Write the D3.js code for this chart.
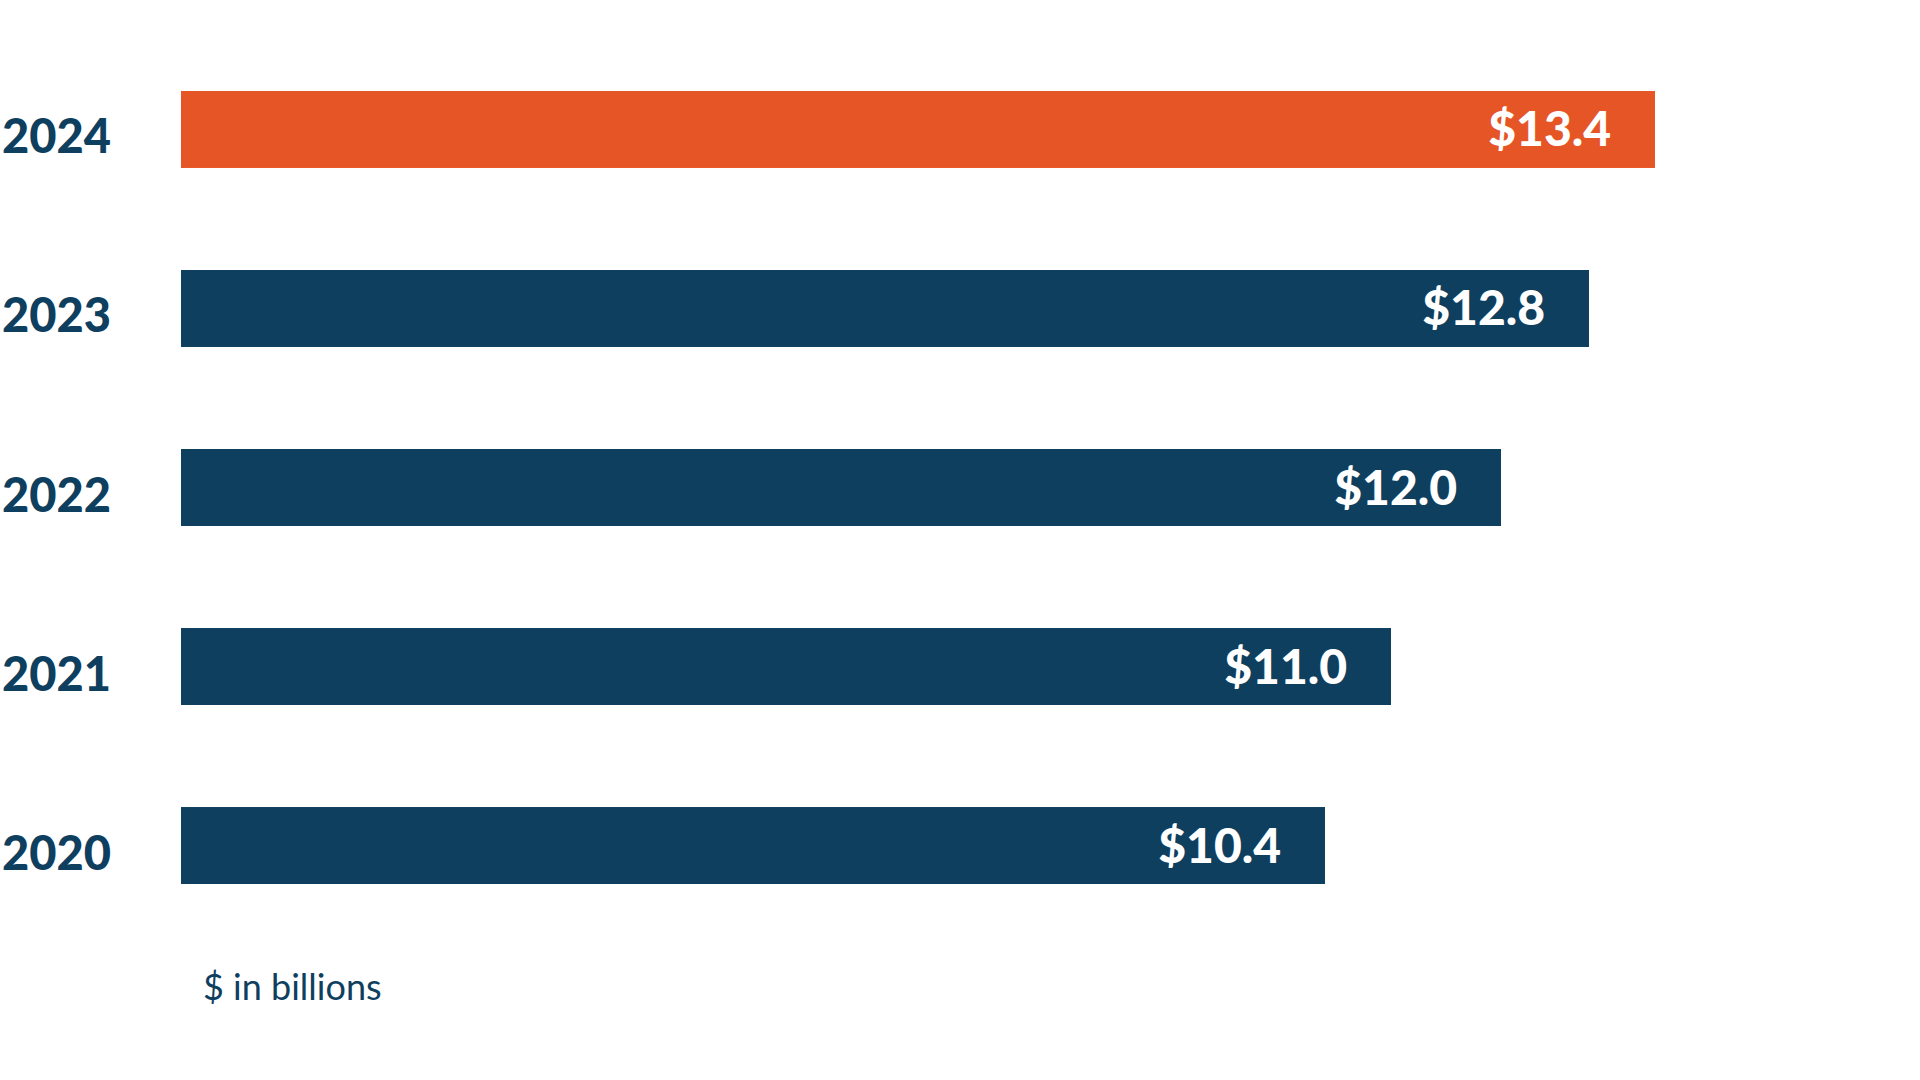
<!DOCTYPE html>
<html>
<head>
<meta charset="utf-8">
<script src="https://cdn.jsdelivr.net/npm/d3@7"></script>
<style>
  body { margin: 0; background: #fff; }
</style>
</head>
<body>
<svg id="chart" width="1920" height="1080"></svg>
<script>
// values in $ billions
const years = ["2024", "2023", "2022", "2021", "2020"]
const values = [13.4, 12.8, 12.0, 11.0, 10.4]
const valueLabels = ["$13.4", "$12.8", "$12.0", "$11.0", "$10.4"]
const unitNote = "$ in billions"

const navy = "#0f3f5f"
const orange = "#e65526"

const svg = d3.select("#chart")

const x = d3.scaleLinear()
    .domain([0, 13.4])
    .range([181, 1655])

const y = d3.scaleBand()
    .domain(years)
    .range([91, 884])
    .paddingInner(0.57)
    .paddingOuter(0)

const rows = svg.selectAll("g.row")
    .data(years)
    .enter()
    .append("g")
    .attr("class", "row")

rows.append("rect")
    .attr("x", x(0))
    .attr("y", d => y(d))
    .attr("width", (d, i) => x(values[i]) - x(0))
    .attr("height", y.bandwidth())
    .attr("fill", (d, i) => i === 0 ? orange : navy)

rows.append("text")
    .attr("x", 2)
    .attr("y", d => y(d) + y.bandwidth() / 2 + 24)
    .attr("font-family", "Lato")
    .attr("font-weight", 900)
    .attr("font-size", 47)
    .attr("fill", navy)
    .text(d => d)

rows.append("text")
    .attr("x", (d, i) => x(values[i]) - 44)
    .attr("y", d => y(d) + y.bandwidth() / 2 + 17)
    .attr("text-anchor", "end")
    .attr("font-family", "Lato")
    .attr("font-weight", 900)
    .attr("font-size", 48)
    .attr("fill", "#fff")
    .text((d, i) => valueLabels[i])

svg.append("text")
    .attr("x", 203)
    .attr("y", 1000)
    .attr("font-family", "Lato")
    .attr("font-size", 36)
    .attr("fill", navy)
    .text(unitNote)
</script>
</body>
</html>
